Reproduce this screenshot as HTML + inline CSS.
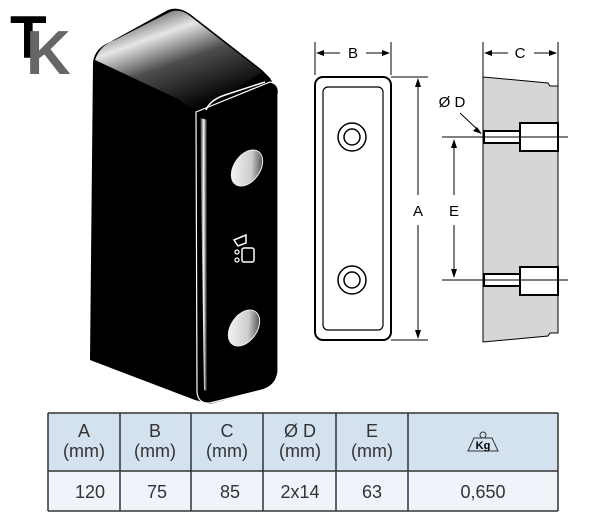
<!DOCTYPE html>
<html><head><style>
body{margin:0;background:#fff;width:600px;height:516px;overflow:hidden}
svg{position:absolute;left:0;top:0}
text{font-family:"Liberation Sans",sans-serif}
</style></head><body>
<svg width="600" height="516" viewBox="0 0 600 516">
<defs>
<linearGradient id="tg" x1="0" y1="0" x2="0.6" y2="1">
<stop offset="0" stop-color="#000"/><stop offset="0.35" stop-color="#fff"/><stop offset="0.6" stop-color="#555"/><stop offset="1" stop-color="#000"/>
</linearGradient>
<linearGradient id="hg" x1="0" y1="1" x2="1" y2="0">
<stop offset="0" stop-color="#fff"/><stop offset="0.6" stop-color="#ccc"/><stop offset="1" stop-color="#111"/>
</linearGradient>
<linearGradient id="pg" x1="0" y1="0" x2="1" y2="0">
<stop offset="0" stop-color="#000"/><stop offset="0.3" stop-color="#fff"/><stop offset="0.6" stop-color="#000"/>
</linearGradient>
</defs>
<!-- logo -->
<text x="10" y="58" font-family="Liberation Serif" font-size="60" font-weight="bold" fill="#000">T</text>
<text x="26" y="74" font-family="Liberation Serif" font-size="62" font-weight="bold" fill="#666">K</text>
<!-- block body -->
<path d="M93,62 Q95,48 110,42 L168,10 Q178,6 190,14 L262,70 L270,78 L277,90 L277,370 Q277,385 262,390 L210,404 L195,400 L90,360 Z" fill="#000"/>
<path d="M95,60 Q100,45 115,40 L170,12 Q180,8 190,16 L262,72 L205,110 Q190,112 180,100 Z" fill="url(#tg)" opacity="0.9"/>
<path d="M196,112 L270,82 Q280,84 278,95 L278,372 Q276,386 262,390 L210,403 Q198,404 197,392 Z" fill="#000" stroke="#fff" stroke-width="1.2"/>
<path d="M200,118 L204,390 L212,392 L208,120 Z" fill="url(#pg)"/>
<path d="M206,110 Q210,100 225,95 L265,82" stroke="#fff" stroke-width="1.5" fill="none"/>
<ellipse cx="247" cy="168" rx="13" ry="20" transform="rotate(35 247 168)" fill="url(#hg)" stroke="#eee"/>
<ellipse cx="244" cy="328" rx="13" ry="20" transform="rotate(35 244 328)" fill="url(#hg)" stroke="#eee"/>
<path d="M234,240 l12,-5 l0,8 l-8,3 z" fill="none" stroke="#fff" stroke-width="1.5"/>
<rect x="242" y="248" width="12" height="14" rx="2" fill="none" stroke="#fff" stroke-width="1.5"/>
<circle cx="237" cy="252" r="2" fill="none" stroke="#fff" stroke-width="1.3"/>
<circle cx="237" cy="260" r="2" fill="none" stroke="#fff" stroke-width="1.3"/>
<!-- front view -->
<g fill="none" stroke="#000">
<rect x="315" y="77" width="76" height="263" rx="8" stroke-width="2"/>
<rect x="323" y="87" width="60" height="243" rx="5" stroke-width="1.2"/>
<circle cx="352" cy="137" r="14" stroke-width="1.5"/><circle cx="352" cy="137" r="8" stroke-width="1.5"/>
<circle cx="352" cy="280" r="14" stroke-width="1.5"/><circle cx="352" cy="280" r="8" stroke-width="1.5"/>
<line x1="315" y1="42" x2="315" y2="75"/><line x1="391" y1="42" x2="391" y2="75"/>
<line x1="391" y1="77" x2="428" y2="77"/><line x1="391" y1="340" x2="428" y2="340"/>
<line x1="318" y1="53" x2="340" y2="53"/><line x1="366" y1="53" x2="388" y2="53"/>
<line x1="418" y1="82" x2="418" y2="195"/><line x1="418" y1="225" x2="418" y2="335"/>
</g>
<g fill="#000">
<path d="M316,53 l8,-3 v6z"/><path d="M390,53 l-8,-3 v6z"/>
<path d="M418,78 l-3,9 h6z"/><path d="M418,339 l-3,-9 h6z"/>
</g>
<text x="353" y="58" font-size="15" text-anchor="middle">B</text>
<text x="418" y="216" font-size="15" text-anchor="middle">A</text>
<!-- side view -->
<path d="M483,77 L548,83 L550,86 L558,86 L558,333 L550,333 L548,336 L483,342 Z" fill="#d6d6d6" stroke="#000" stroke-width="1"/>
<g fill="#fff" stroke="#000" stroke-width="2">
<rect x="484" y="131" width="36" height="12"/><rect x="520" y="123" width="38" height="28"/>
<rect x="484" y="274" width="36" height="12"/><rect x="520" y="267" width="38" height="28"/>
</g>
<g fill="none" stroke="#000">
<line x1="442" y1="137" x2="568" y2="137"/><line x1="442" y1="280" x2="568" y2="280"/>
<line x1="483" y1="42" x2="483" y2="77"/><line x1="558" y1="42" x2="558" y2="86"/>
<line x1="486" y1="53" x2="508" y2="53"/><line x1="534" y1="53" x2="556" y2="53"/>
<line x1="454" y1="142" x2="454" y2="195"/><line x1="454" y1="225" x2="454" y2="276"/>
<line x1="460" y1="113" x2="478" y2="130"/>
</g>
<g fill="#000">
<path d="M484,53 l8,-3 v6z"/><path d="M557,53 l-8,-3 v6z"/>
<path d="M454,139 l-3,9 h6z"/><path d="M454,278 l-3,-9 h6z"/>
<path d="M482,134 l-9,-3 l4,-4z"/>
</g>
<text x="520" y="58" font-size="15" text-anchor="middle">C</text>
<text x="454" y="216" font-size="15" text-anchor="middle">E</text>
<text x="452" y="107" font-size="15" text-anchor="middle">Ø D</text>
<!-- table -->
<rect x="48" y="413" width="510" height="58" fill="#d4e2ef"/>
<rect x="48" y="471" width="510" height="40" fill="#eef4fa"/>
<g stroke="#333" stroke-width="1.5">
<line x1="48" y1="413" x2="558" y2="413"/><line x1="48" y1="471" x2="558" y2="471"/><line x1="48" y1="511" x2="558" y2="511"/>
<line x1="48" y1="413" x2="48" y2="511"/><line x1="120" y1="413" x2="120" y2="511"/><line x1="191" y1="413" x2="191" y2="511"/>
<line x1="263" y1="413" x2="263" y2="511"/><line x1="336" y1="413" x2="336" y2="511"/><line x1="408" y1="413" x2="408" y2="511"/><line x1="558" y1="413" x2="558" y2="511"/>
</g>
<g font-size="18" text-anchor="middle" fill="#333">
<text x="84" y="437">A</text><text x="84" y="457">(mm)</text>
<text x="155" y="437">B</text><text x="155" y="457">(mm)</text>
<text x="227" y="437">C</text><text x="227" y="457">(mm)</text>
<text x="300" y="437">Ø D</text><text x="300" y="457">(mm)</text>
<text x="372" y="437">E</text><text x="372" y="457">(mm)</text>
<text x="90" y="498">120</text><text x="157" y="498">75</text><text x="230" y="498">85</text>
<text x="300" y="498">2x14</text><text x="372" y="498">63</text><text x="483" y="498">0,650</text>
</g>
<circle cx="483" cy="435" r="3" fill="none" stroke="#333"/>
<path d="M468,451 L474,438 L492,438 L498,451 Z" fill="none" stroke="#333"/>
<text x="483" y="449" font-size="11" font-weight="bold" text-anchor="middle">Kg</text>
</svg>
</body></html>
